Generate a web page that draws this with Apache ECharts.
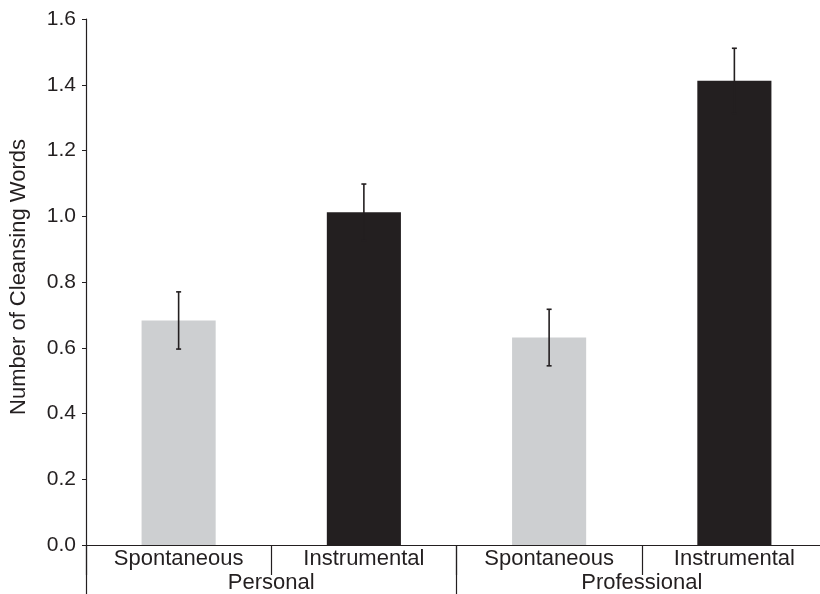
<!DOCTYPE html>
<html>
<head>
<meta charset="utf-8">
<script src="https://cdn.jsdelivr.net/npm/echarts@6/dist/echarts.min.js"></script>
<style>html,body{margin:0;padding:0;background:#fff;overflow:hidden;width:820px;height:594px;}#c{width:834px;height:594px;}</style>
</head>
<body>
<div id="c"></div>
<script>
var conditions = ['Spontaneous', 'Instrumental', 'Spontaneous', 'Instrumental'];
var groups = ['Personal', 'Professional'];
var means = [0.683, 1.012, 0.631, 1.412];
var errors = [0.087, 0.086, 0.086, 0.099];
var yTicks = [0, 0.2, 0.4, 0.6, 0.8, 1.0, 1.2, 1.4, 1.6];
var colors = ['#cdcfd1', '#231f20', '#cdcfd1', '#231f20'];

var ink = '#231f20';
var font = 'Liberation Sans, Arial, Helvetica';
var chart = echarts.init(document.getElementById('c'));
chart.setOption({
  animation: false,
  grid: { left: 83, top: 19, width: 744, height: 527 },
  xAxis: [
    {
      type: 'category', data: conditions, position: 'bottom',
      axisLine: { show: true, lineStyle: { color: ink, width: 1.2 } },
      axisTick: { show: true, length: 30, interval: 0, lineStyle: { color: ink, width: 1.2 } },
      axisLabel: { color: ink, fontSize: 22, fontFamily: font, margin: 3, interval: 0 }
    },
    {
      type: 'category', data: groups, position: 'bottom',
      axisLine: { show: false },
      axisTick: { show: true, length: 50, interval: 0, lineStyle: { color: ink, width: 1.2 } },
      axisLabel: { color: ink, fontSize: 22, fontFamily: font, margin: 27, interval: 0 }
    }
  ],
  yAxis: {
    type: 'value', min: 0, max: 1.6, interval: 0.2,
    name: 'Number of Cleansing Words', nameLocation: 'middle', nameGap: 56,
    nameTextStyle: { color: ink, fontSize: 22, fontFamily: font, padding: [0, 0, 0, 10] },
    axisLine: { show: true, lineStyle: { color: ink, width: 1.2 } },
    axisTick: { show: true, length: 4, lineStyle: { color: ink } },
    splitLine: { show: false },
    axisLabel: {
      color: ink, fontSize: 21, fontFamily: font, margin: 10,
      formatter: function (v) { var t = yTicks.filter(function (x) { return Math.abs(x - v) < 1e-6; }); return t.length ? v.toFixed(1) : ''; }
    }
  },
  series: [
    {
      type: 'bar', xAxisIndex: 0, barWidth: '40%',
      data: means.map(function (m, i) { return { value: m, itemStyle: { color: colors[i] } }; })
    },
    {
      type: 'custom', xAxisIndex: 0, z: 10,
      data: means.map(function (m, i) { return [i, m - errors[i], m + errors[i]]; }),
      renderItem: function (params, api) {
        var lo = api.coord([api.value(0), api.value(1)]);
        var hi = api.coord([api.value(0), api.value(2)]);
        var x = lo[0], w = 2.5;
        var st = { stroke: ink, lineWidth: 1.6 };
        return {
          type: 'group', children: [
            { type: 'line', shape: { x1: x, y1: lo[1], x2: x, y2: hi[1] }, style: st },
            { type: 'line', shape: { x1: x - w, y1: lo[1], x2: x + w, y2: lo[1] }, style: st },
            { type: 'line', shape: { x1: x - w, y1: hi[1], x2: x + w, y2: hi[1] }, style: st }
          ]
        };
      }
    }
  ]
});
</script>
</body>
</html>
